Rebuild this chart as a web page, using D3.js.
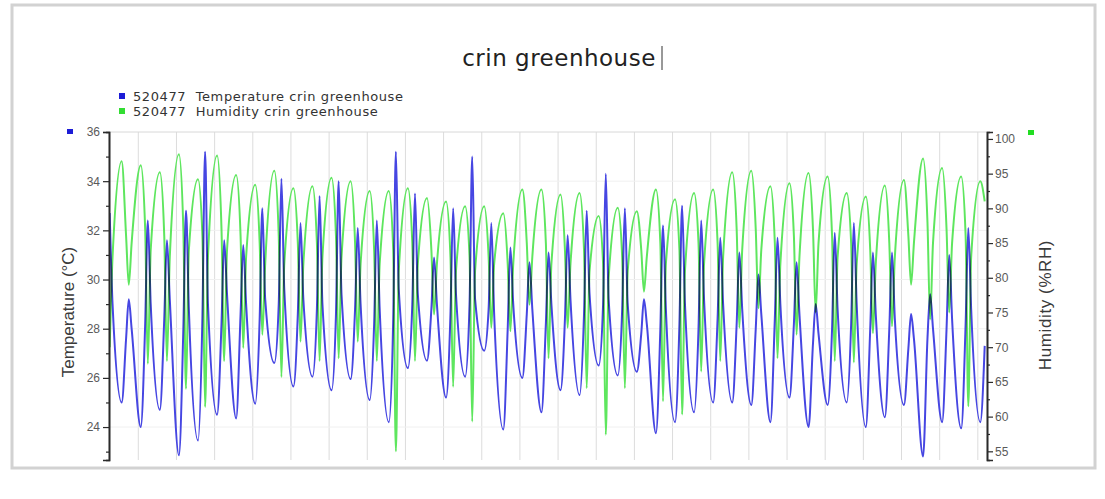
<!DOCTYPE html>
<html>
<head>
<meta charset="utf-8">
<script src="https://cdn.jsdelivr.net/npm/d3@7"></script>
<style>
  body { margin: 0; background: #fff; }
  .mono { font-family: "Liberation Sans", Arial, sans-serif; }
</style>
</head>
<body>
<div id="chart"></div>
<script>
// daily readings. temp in degC, humidity in %RH
// night values (about 3am), days 1..46
const tLow  = [25.0,24.0,24.7,22.85,23.45,24.5,24.35,24.95,26.6,25.65,26.05,25.5,25.95,25.1,24.2,26.4,26.7,25.2,26.05,27.1,23.9,26.0,24.6,25.5,25.3,26.5,26.1,26.25,23.75,24.2,24.6,25.0,25.0,24.9,24.2,25.2,24.0,24.9,25.0,24.0,24.4,24.9,22.8,24.2,23.95,24.2];
const tMorn = [27.6,28.2,28.4,28.0,28.5,28.2,28.6,28.4,29.0,28.6,28.8,28.6,28.8,28.2,28.4,29.0,28.8,28.6,29.0,28.8,28.0,28.6,28.2,28.4,28.6,29.0,28.8,27.8,28.0,28.2,28.0,28.4,28.2,28.0,28.4,28.2,27.4,28.0,28.2,28.0,28.0,27.2,27.6,28.0,28.2,27.3];
// day values (about noon) and late afternoon, days 0..45
const tHigh = [32.7,29.2,32.4,31.6,32.8,35.2,31.6,31.4,32.9,34.1,32.3,33.4,34.0,32.1,32.4,35.2,33.5,30.9,32.9,35.0,32.3,31.3,30.7,31.1,31.8,32.8,34.3,32.9,29.2,32.2,33.0,32.4,31.7,31.1,30.2,31.7,30.7,29.0,31.9,32.3,31.1,31.1,28.6,29.4,31.0,32.1];
const tEve  = [29.0,28.0,29.0,29.2,28.8,29.0,29.4,29.0,29.2,29.6,29.2,29.0,29.4,29.0,28.8,29.6,29.4,29.0,29.4,29.2,28.6,29.0,28.8,29.0,29.2,29.4,29.2,29.0,28.2,28.8,29.0,29.2,29.0,28.8,28.6,29.0,28.6,27.8,28.8,29.0,28.6,28.4,27.6,28.0,28.4,28.8];

const hHigh = [96.8,96.2,95.2,97.8,94.2,97.6,94.8,93.4,95.4,92.9,93.2,94.4,93.9,92.5,92.5,92.9,91.5,91.0,90.3,90.3,89.3,92.7,92.7,92.0,92.2,88.9,90.1,89.6,92.7,91.3,92.2,92.7,95.2,95.4,93.2,93.6,95.1,94.6,92.2,91.7,93.3,94.1,97.2,95.8,94.6,93.9];
const hMorn = [86,87,86,87,86,87,86,85,86,85,85,86,85,84,84,85,84,83,83,83,82,85,85,84,84,82,83,84,85,84,85,85,87,87,85,86,87,86,85,84,85,86,88,87,86,91];
const hLow  = [70.0,79.0,67.6,68.0,64.0,61.4,68.0,69.9,71.8,65.7,70.8,68.0,68.4,70.8,68.0,55.0,68.0,74.7,64.3,59.3,72.8,72.3,76.1,68.4,72.8,64.1,57.4,64.1,78.0,62.2,60.3,66.5,68.0,72.8,75.6,68.4,71.8,75.0,68.0,67.8,72.0,73.0,79.0,74.0,75.0,61.5];
const hEve  = [83,85,84,83,84,83,84,83,82,82,82,83,83,82,82,81,82,82,81,81,82,82,83,82,82,81,80,81,83,82,81,82,83,84,84,82,83,85,83,82,82,83,85,85,85,83];

const tTicks = [24,26,28,30,32,34,36],
      tMinor = [23,25,27,29,31,33,35],
      hTicks = [55,60,65,70,75,80,85,90,95,100],
      hMinor = [57.5,62.5,67.5,72.5,77.5,82.5,87.5,92.5,97.5],
      gridDays = d3.range(2, 47, 2);

// time of day for each kind of reading, as a fraction of a day
const atLow = 0.13, atMorn = 0.36, atHigh = 0.5, atEve = 0.65;

function buildSeries(low, morn, high, eve){
    var pts = [];
    for (var k = 0; k <= 46; k++){
        if (k >= 1){
            pts.push({x: k + atLow, y: low[k-1]});
            pts.push({x: k + atMorn, y: morn[k-1]});
        }
        if (k <= 45){
            pts.push({x: k + atHigh, y: high[k]});
            pts.push({x: k + atEve, y: eve[k]});
        }
    }
    return pts;
}
const tempData = buildSeries(tLow, tMorn, tHigh, tEve),
      humData = buildSeries(hHigh, hMorn, hLow, hEve);

const W = 1105, H = 499,
      plot = {left: 109, right: 987, top: 132, bottom: 460};

const svg = d3.select('#chart').append('svg')
        .attr("width", W)
        .attr("height", H)
        .attr("class", "mono");

// frame around the picture
svg.append("rect")
    .attr("x", 12).attr("y", 5)
    .attr("width", 1083).attr("height", 463)
    .attr("fill", "#fff")
    .attr("stroke", "#d2d2d2")
    .attr("stroke-width", 3);

const x = d3.scaleLinear().domain([0.464, 46.48]).range([plot.left, plot.right]);
const yT = d3.scaleLinear().domain([22.66, 36]).range([plot.bottom, plot.top]);
const yH = d3.scaleLinear().domain([53.75, 101.0]).range([plot.bottom, plot.top]);

// grid
svg.append("g").selectAll("line")
    .data(gridDays).enter().append("line")
    .attr("x1", d => x(d)).attr("x2", d => x(d))
    .attr("y1", plot.top).attr("y2", plot.bottom)
    .attr("stroke", "#dcdcdc").attr("stroke-width", 1);
svg.append("g").selectAll("line")
    .data(tTicks).enter().append("line")
    .attr("x1", plot.left).attr("x2", plot.right)
    .attr("y1", d => yT(d)).attr("y2", d => yT(d))
    .attr("stroke", d => d === 36 ? "#d8d8d8" : "#f0f0f0").attr("stroke-width", 1);

svg.append("defs").append("clipPath").attr("id", "clip")
    .append("rect")
    .attr("x", plot.left).attr("y", plot.top)
    .attr("width", plot.right - plot.left).attr("height", plot.bottom - plot.top);

const lines = svg.append("g").attr("clip-path", "url(#clip)");
lines.append("path")
    .datum(humData)
    .attr("fill", "none")
    .attr("stroke", "#5ee65e")
    .attr("stroke-width", 2)
    .attr("stroke-linejoin", "round")
    .attr("d", d3.line().x(d => x(d.x)).y(d => yH(d.y)).curve(d3.curveMonotoneX));
lines.append("path")
    .datum(tempData)
    .attr("fill", "none")
    .attr("stroke", "#4646e2")
    .attr("stroke-width", 2)
    .attr("stroke-linejoin", "round")
    .style("mix-blend-mode", "multiply")
    .attr("d", d3.line().x(d => x(d.x)).y(d => yT(d.y)).curve(d3.curveMonotoneX));

// axes
svg.append("g")
    .attr("transform", "translate(" + plot.left + ",0)")
    .call(d3.axisLeft(yT).tickValues(tTicks).tickSize(6).tickPadding(3).tickFormat(d3.format("d")));
svg.append("g")
    .attr("transform", "translate(" + plot.left + ",0)")
    .call(d3.axisLeft(yT).tickValues(tMinor).tickSize(3).tickFormat(""));
svg.append("g")
    .attr("transform", "translate(" + plot.right + ",0)")
    .call(d3.axisRight(yH).tickValues(hTicks).tickSize(6).tickPadding(2).tickFormat(d3.format("d")));
svg.append("g")
    .attr("transform", "translate(" + plot.right + ",0)")
    .call(d3.axisRight(yH).tickValues(hMinor).tickSize(3).tickFormat(""));

svg.selectAll(".domain").attr("stroke", "#2a2a2a").attr("stroke-width", 1.6);
svg.selectAll(".tick line").attr("stroke", "#2a2a2a").attr("stroke-width", 1.2);
svg.selectAll(".tick text")
    .attr("fill", "#5a5a5a")
    .style("font-size", "12px")
    .style("font-family", "Liberation Sans, Arial, sans-serif");

// series markers next to the axes
svg.append("rect").attr("x", 67).attr("y", 129).attr("width", 6).attr("height", 5).attr("fill", "#1c1cd6");
svg.append("rect").attr("x", 1028).attr("y", 130).attr("width", 6).attr("height", 5).attr("fill", "#22dd22");

// axis titles
svg.append("text")
    .attr("transform", "translate(74,312) rotate(-90)")
    .attr("text-anchor", "middle")
    .attr("fill", "#3a3a3a")
    .style("font-size", "17px")
    .text("Temperature (°C)");
svg.append("text")
    .attr("transform", "translate(1051,305) rotate(-90)")
    .attr("text-anchor", "middle")
    .attr("fill", "#3a3a3a")
    .style("font-size", "17px")
    .style("letter-spacing", "0.6px")
    .text("Humidity (%RH)");

// title
svg.append("text")
    .attr("x", 559).attr("y", 66)
    .attr("text-anchor", "middle")
    .attr("fill", "#222")
    .style("font-family", "DejaVu Sans, sans-serif")
    .style("font-size", "23px")
    .style("letter-spacing", "0.5px")
    .text("crin greenhouse");
svg.append("line")
    .attr("x1", 662).attr("x2", 662).attr("y1", 46).attr("y2", 70)
    .attr("stroke", "#333").attr("stroke-width", 1);

// legend
const legendItems = [
    {color: "#1c1cd6", label: "520477  Temperature crin greenhouse"},
    {color: "#33dd33", label: "520477  Humidity crin greenhouse"}
];
const legend = svg.selectAll(".legend")
    .data(legendItems).enter().append("g")
    .attr("class", "legend")
    .attr("transform", (d, i) => "translate(119," + (96 + i * 15) + ")");
legend.append("rect")
    .attr("x", 0).attr("y", -3)
    .attr("width", 6).attr("height", 6)
    .attr("fill", d => d.color);
legend.append("text")
    .attr("x", 14).attr("y", 4.5)
    .attr("fill", "#333")
    .style("font-family", "DejaVu Sans, sans-serif")
    .style("font-size", "13px")
    .style("letter-spacing", "0.6px")
    .style("white-space", "pre")
    .text(d => d.label);
</script>
</body>
</html>
